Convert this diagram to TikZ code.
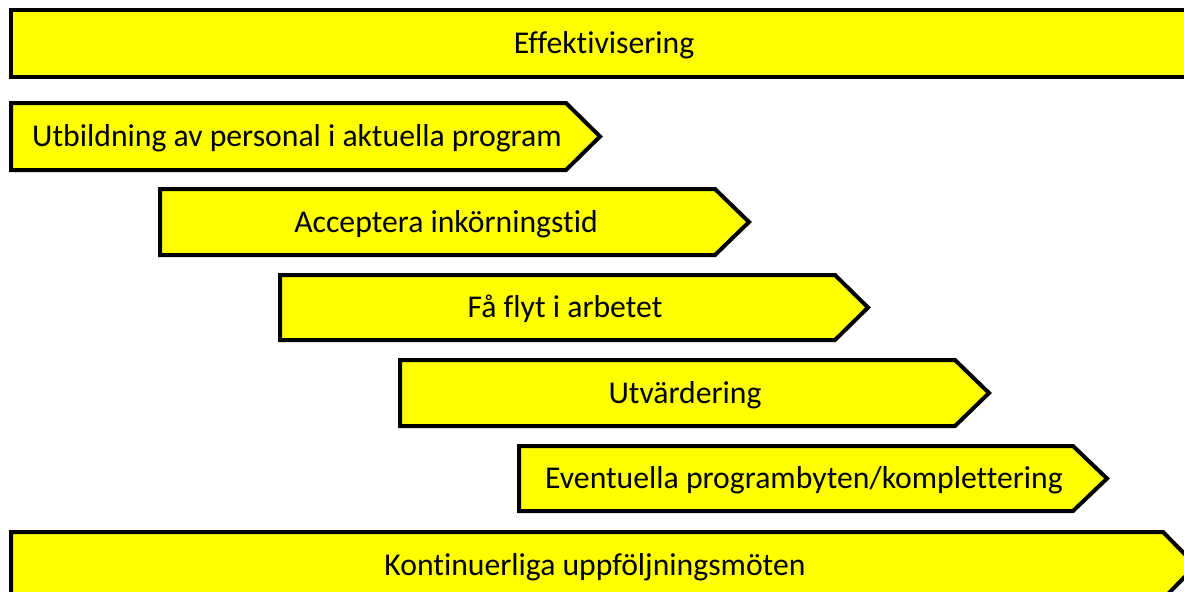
\documentclass[tikz,border=0pt]{standalone}
\usepackage{fontspec}
\setmainfont[Ligatures=NoCommon]{Carlito}
\definecolor{ybar}{RGB}{255,255,0}
\begin{document}
\begin{tikzpicture}[x=0.5pt,y=-0.5pt,
  bar/.style={draw=black,fill=ybar,line width=2pt,line join=miter},
  lbl/.style={font=\fontsize{15.85}{18}\selectfont,text=black,inner sep=0pt,anchor=base}]
\useasboundingbox (0,0) rectangle (1184,591);
\clip (0,0) rectangle (1184,591);
% Effektivisering
\draw[bar] (11,10) rectangle (1200,77);
\node[lbl] (eff) at (604,53.5) {Effektivisering};
% Utbildning
\draw[bar] (11,103) -- (566,103) -- (600,136.5) -- (566,170) -- (11,170) -- cycle;
\node[lbl] (utb) at (297,146.5) {Utbildning av personal i aktuella program};
% Acceptera
\draw[bar] (160,189) -- (715,189) -- (749,222) -- (715,255) -- (160,255) -- cycle;
\node[lbl] (acc) at (446,232) {Acceptera inkörningstid};
% Få flyt
\draw[bar] (280,275) -- (835,275) -- (868,307.5) -- (835,340) -- (280,340) -- cycle;
\node[lbl] (fa) at (565,317.5) {Få flyt i arbetet};
% Utvärdering
\draw[bar] (400,360) -- (955,360) -- (989,393) -- (955,426) -- (400,426) -- cycle;
\node[lbl] (utv) at (685,403) {Utvärdering};
% Eventuella
\draw[bar] (519,446) -- (1073,446) -- (1107,478.5) -- (1073,511) -- (519,511) -- cycle;
\node[lbl] (eve) at (804,488.5) {Eventuella programbyten/komplettering};
% Kontinuerliga
\draw[bar] (11,532) -- (1163,532) -- (1196,565.5) -- (1163,599) -- (11,599) -- cycle;
\node[lbl] (kon) at (595,575.5) {Kontinuerliga uppföljningsmöten};
\end{tikzpicture}
\end{document}
